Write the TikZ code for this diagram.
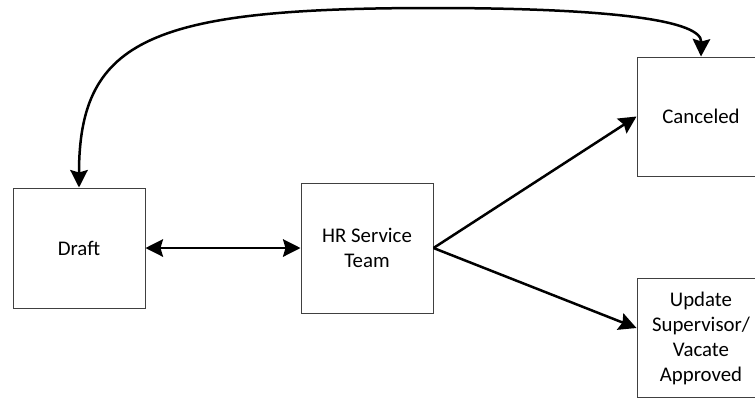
\documentclass[tikz,border=0pt]{standalone}
\usepackage{fontspec}
\setmainfont{Carlito}
\usetikzlibrary{arrows.meta,positioning}

\tikzset{
  >={Stealth[length=10.5pt,width=10.5pt,inset=1.5pt]},
  state/.style={draw=black!75,line width=0.6pt,align=center,minimum width=79.2pt,
    font=\fontsize{12.5}{15}\selectfont},
  flow/.style={line width=1.5pt}
}

\begin{document}
\begin{tikzpicture}[x=0.6pt,y=-0.6pt]
        \useasboundingbox (0,0) rectangle (755,399);

        \node[state,minimum height=72pt] (draft) at (79,248) {Draft};
        \node[state,minimum height=78pt] (hr) at (367,248) {HR Service\\Team};
        \node[state,minimum height=71.4pt,minimum width=76.8pt] (canc) at (701,116.5) {Canceled};
        \node[state,minimum height=71.4pt,minimum width=76.8pt] (upd) at (701,338) {Update\\Supervisor/\\Vacate\\Approved};

        \coordinate (top) at (433,8);

        \draw[flow,<->] (draft) -- (hr);
        \draw[flow,->] (hr.east) -- (canc.west);
        \draw[flow,->] (hr.east) -- ([yshift=6pt]upd.west);
        \draw[flow,<->] (draft.north)
          .. controls (79,38) and (153,8) .. (top)
          .. controls (583,8) and (702,17) .. (canc.north);
\end{tikzpicture}
\end{document}
